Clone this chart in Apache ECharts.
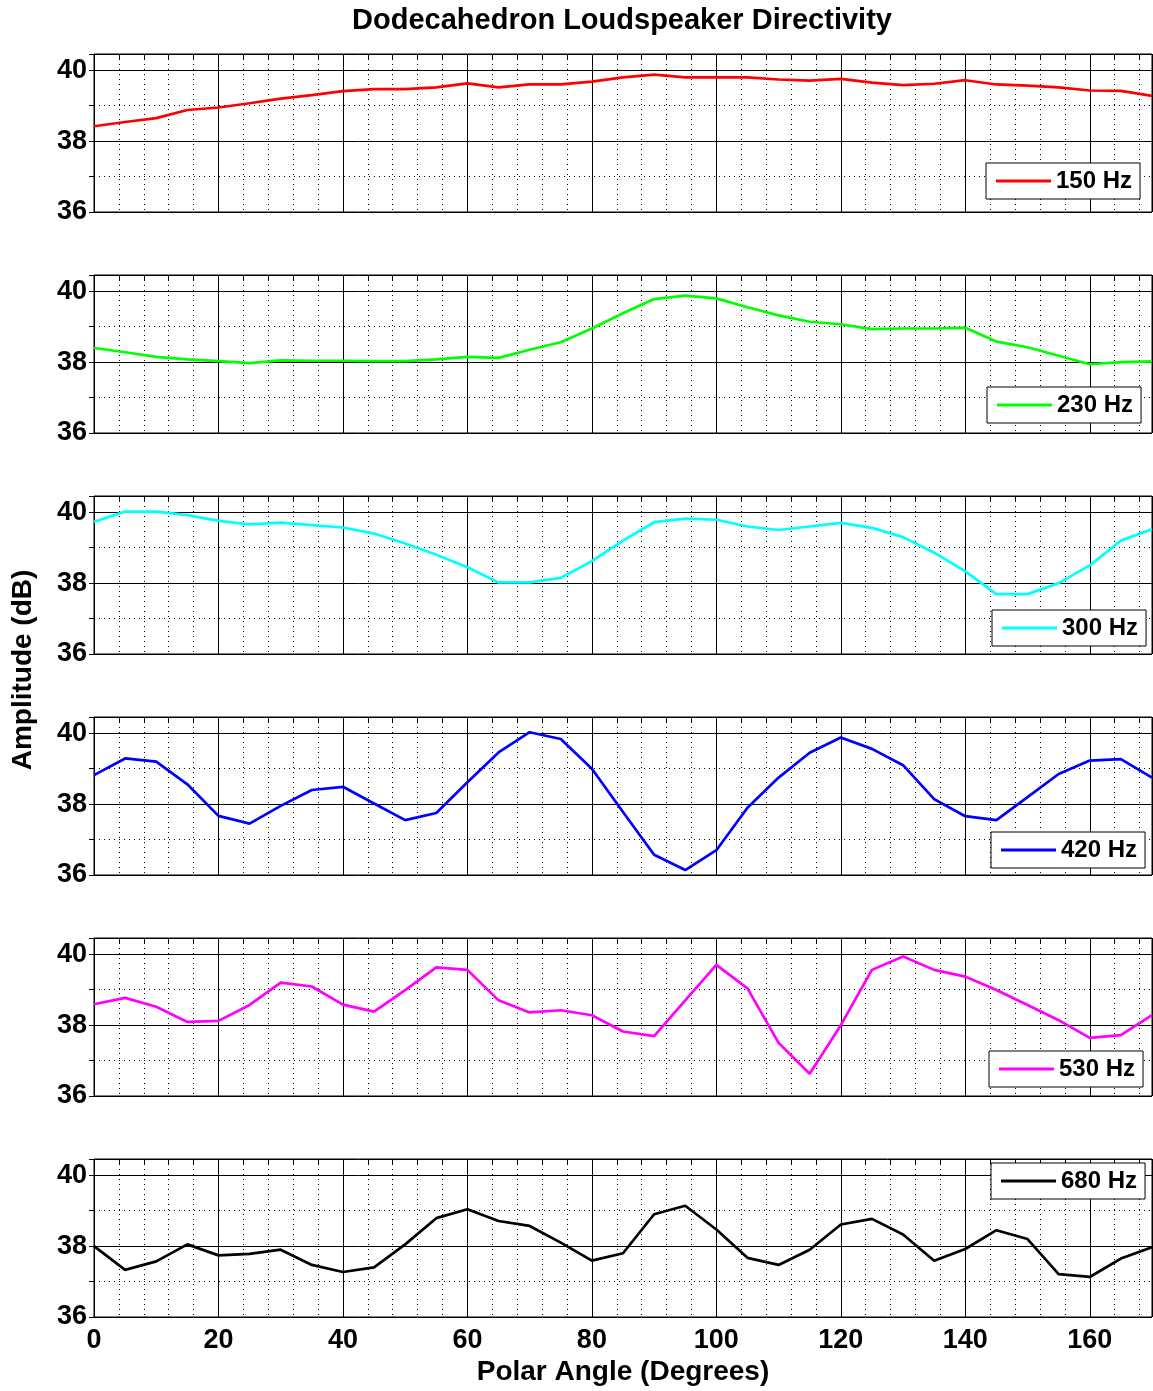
<!DOCTYPE html>
<html>
<head>
<meta charset="utf-8">
<script src="https://cdn.jsdelivr.net/npm/echarts@6/dist/echarts.min.js"></script>
<style>
html,body{margin:0;padding:0;background:#fff;}
#chart{width:1153px;height:1391px;}
</style>
</head>
<body>
<div id="chart"></div>
<script>
const angles = [0,5,10,15,20,25,30,35,40,45,50,55,60,65,70,75,80,85,90,95,100,105,110,115,120,125,130,135,140,145,150,155,160,165,170];
const hz150 = [38.42,38.54,38.65,38.88,38.95,39.07,39.2,39.3,39.41,39.47,39.47,39.52,39.63,39.52,39.6,39.6,39.68,39.8,39.88,39.8,39.8,39.8,39.74,39.71,39.76,39.65,39.58,39.62,39.72,39.6,39.57,39.52,39.43,39.42,39.28];
const hz230 = [38.4,38.28,38.15,38.08,38.03,37.97,38.05,38.04,38.04,38.03,38.03,38.08,38.15,38.12,38.35,38.56,38.95,39.38,39.78,39.88,39.8,39.55,39.32,39.14,39.07,38.93,38.95,38.95,38.97,38.58,38.42,38.18,37.94,38.0,38.02];
const hz300 = [39.73,40.02,40.02,39.92,39.76,39.66,39.71,39.64,39.57,39.4,39.12,38.8,38.45,38.02,38.02,38.15,38.62,39.2,39.72,39.82,39.79,39.6,39.5,39.6,39.7,39.56,39.3,38.86,38.33,37.69,37.69,38.0,38.5,39.2,39.52];
const hz420 = [38.82,39.29,39.2,38.56,37.67,37.45,37.95,38.4,38.49,38.02,37.55,37.75,38.62,39.46,40.03,39.84,39.0,37.78,36.57,36.14,36.7,37.9,38.75,39.45,39.88,39.56,39.1,38.14,37.66,37.55,38.2,38.85,39.23,39.27,38.75];
const hz530 = [38.59,38.77,38.52,38.09,38.12,38.57,39.2,39.09,38.58,38.38,38.99,39.63,39.56,38.7,38.36,38.42,38.28,37.82,37.69,38.7,39.7,39.04,37.5,36.63,38.0,39.56,39.94,39.56,39.37,38.99,38.57,38.14,37.64,37.72,38.28];
const hz680 = [38.0,37.33,37.57,38.05,37.74,37.78,37.9,37.47,37.27,37.4,38.05,38.79,39.04,38.71,38.57,38.1,37.59,37.8,38.9,39.14,38.47,37.67,37.47,37.9,38.61,38.77,38.33,37.59,37.92,38.45,38.2,37.21,37.13,37.65,37.97];

const seriesNames = ['150 Hz','230 Hz','300 Hz','420 Hz','530 Hz','680 Hz'];
const seriesValues = [hz150,hz230,hz300,hz420,hz530,hz680];
const seriesColors = ['#ff0000','#00ff00','#00ffff','#0000ff','#ff00ff','#000000'];
const yTicks = [36,38,40];
const xTickStep = 20;

const FONT = '"Liberation Sans", Arial, Helvetica, sans-serif';
const tops = [54,275,496,717,938,1159];
const legendPos = [[986,163],[987,387],[992,610],[991,832],[989,1051],[991,1163]];
const PLOT_LEFT = 94, PLOT_W = 1058, PLOT_H = 158;
const YMIN = 36, YMAX = 40.46, XMIN = 0, XMAX = 170;

const grid = [], xAxis = [], yAxis = [], series = [], legend = [];
tops.forEach((t, i) => {
  grid.push({left: PLOT_LEFT, top: t, width: PLOT_W, height: PLOT_H, show: true,
    borderColor: '#000', borderWidth: 1, backgroundColor: 'transparent'});
  const last = i === tops.length - 1;
  xAxis.push({type: 'value', gridIndex: i, min: XMIN, max: XMAX, interval: xTickStep, z: 3,
    axisLine: {show: false}, axisTick: {show: false},
    splitLine: {show: true, lineStyle: {color: '#000', width: 1, type: 'solid'}},
    axisLabel: {show: last, showMaxLabel: false, fontSize: 27, fontWeight: 'bold', color: '#000', fontFamily: FONT, margin: 10},
    name: last ? 'Polar Angle (Degrees)' : '', nameLocation: 'middle', nameGap: 41,
    nameTextStyle: {fontSize: 28, fontWeight: 'bold', color: '#000', fontFamily: FONT}
  });
  xAxis.push({type: 'value', gridIndex: i, min: XMIN, max: XMAX, interval: 4, z: 1,
    axisLine: {show: false}, axisLabel: {show: false},
    axisTick: {show: true, inside: true, length: 5, lineStyle: {color: '#000', width: 1}},
    splitLine: {show: true, lineStyle: {color: '#000', width: 1, type: [1,4]}}
  });
  xAxis.push({type: 'value', gridIndex: i, position: 'top', min: XMIN, max: XMAX, interval: 4, z: 1,
    axisLine: {show: false}, axisLabel: {show: false},
    axisTick: {show: true, inside: true, length: 5, lineStyle: {color: '#000', width: 1}},
    splitLine: {show: false}
  });
  yAxis.push({type: 'value', gridIndex: i, min: YMIN, max: YMAX, interval: 2, z: 3,
    axisLine: {show: false}, axisTick: {show: false},
    splitLine: {show: true, lineStyle: {color: '#000', width: 1, type: 'solid'}},
    axisLabel: {show: true, showMaxLabel: false, fontSize: 27, fontWeight: 'bold', color: '#000', fontFamily: FONT, margin: 7,
      formatter: v => yTicks.indexOf(v) >= 0 ? String(v) : ''}
  });
  yAxis.push({type: 'value', gridIndex: i, min: YMIN, max: YMAX, interval: 1, z: 1,
    axisLine: {show: false}, axisLabel: {show: false},
    axisTick: {show: true, inside: true, length: 5, lineStyle: {color: '#000', width: 1}},
    splitLine: {show: true, lineStyle: {color: '#000', width: 1, type: [1,4]}}
  });
  series.push({type: 'line', name: seriesNames[i], xAxisIndex: 3*i, yAxisIndex: 2*i,
    data: angles.map((a, k) => [a, seriesValues[i][k]]),
    symbol: 'none', showSymbol: false, z: 5,
    lineStyle: {color: seriesColors[i], width: 2.7}, itemStyle: {color: seriesColors[i]}
  });
  legend.push({data: [seriesNames[i]], left: legendPos[i][0], top: legendPos[i][1], z: 10,
    orient: 'horizontal', selectedMode: false, backgroundColor: '#fff',
    borderColor: '#000', borderWidth: 1, borderRadius: 0, padding: [6, 8, 6, 10],
    icon: 'rect', itemWidth: 55, itemHeight: 3, itemGap: 0,
    itemStyle: {color: seriesColors[i], borderWidth: 0},
    textStyle: {fontSize: 24, fontWeight: 'bold', color: '#000', fontFamily: FONT}
  });
});

const chart = echarts.init(document.getElementById('chart'), null, {renderer: 'canvas'});
chart.setOption({
  animation: false,
  backgroundColor: '#fff',
  textStyle: {fontFamily: FONT},
  title: {text: 'Dodecahedron Loudspeaker Directivity', left: 622, top: 6, textAlign: 'center', padding: 0,
    textStyle: {fontSize: 29, fontWeight: 'bold', color: '#000', fontFamily: FONT}},
  graphic: [{type: 'text', x: 23, y: 670, rotation: Math.PI/2,
    style: {text: 'Amplitude (dB)', font: 'bold 28px ' + FONT, fill: '#000', textAlign: 'center', textVerticalAlign: 'middle'}}],
  grid, xAxis, yAxis, series, legend
});
</script>
</body>
</html>
